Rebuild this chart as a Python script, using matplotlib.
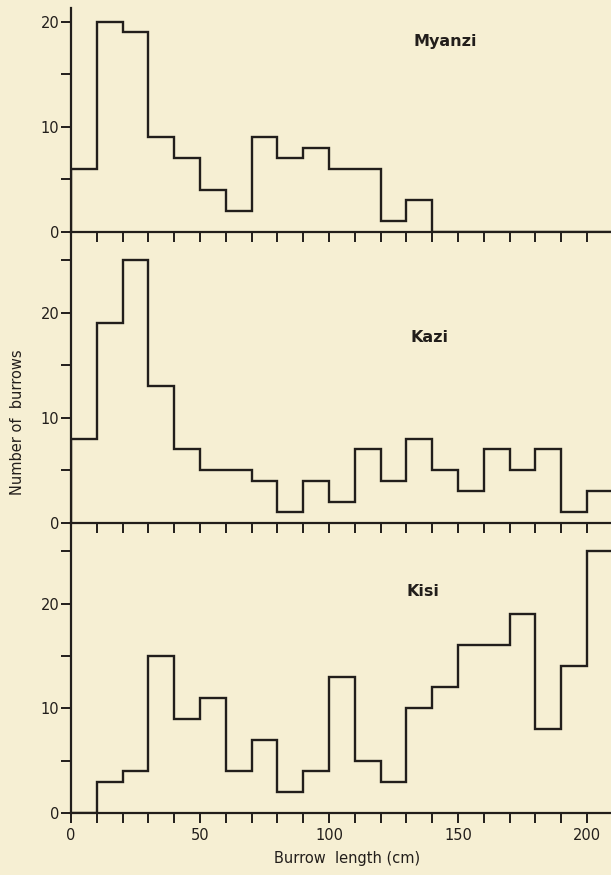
import matplotlib
matplotlib.use("Agg")
import matplotlib.pyplot as plt
import numpy as np

# Burrow length bins (cm), 10 cm wide
bin_edges = np.arange(0, 220, 10)

# Number of burrows per bin
myanzi = [6, 20, 19, 9, 7, 4, 2, 9, 7, 8, 6, 6, 1, 3, 0, 0, 0, 0, 0, 0, 0]
kazi = [8, 19, 25, 13, 7, 5, 5, 4, 1, 4, 2, 7, 4, 8, 5, 3, 7, 5, 7, 1, 3]
kisi = [0, 3, 4, 15, 9, 11, 4, 7, 2, 4, 13, 5, 3, 10, 12, 16, 16, 19, 8, 14, 25]

site_names = ["Myanzi", "Kazi", "Kisi"]
x_tick_labels = ["0", "50", "100", "150", "200"]

bg = "#f6efd3"
ink = "#221e1b"

W, H = 611, 875
fig = plt.figure(figsize=(W / 100, H / 100), dpi=100)
fig.patch.set_facecolor(bg)

# panel boxes in pixels: (top, bottom, ymax), label position in data coords
left_px = 71
px_per_cm = 2.58
xmax = (W - left_px) / px_per_cm
panels = [
    (myanzi, 8, 232, 21.3, (145, 18.1)),
    (kazi, 232, 523, 27.7, (139, 17.7)),
    (kisi, 523, 813, 27.7, (136.5, 21.2)),
]

for k, (counts, top, bot, ymax, lab) in enumerate(panels):
    ax = fig.add_axes([left_px / W, (H - bot) / H, 1 - left_px / W, (bot - top) / H])
    ax.set_facecolor("none")
    ax.stairs(counts, bin_edges, baseline=0, color=ink, lw=1.7)
    ax.set_xlim(0, xmax)
    ax.set_ylim(0, ymax)

    for s in ["top", "right"]:
        ax.spines[s].set_visible(False)
    for s in ["left", "bottom"]:
        ax.spines[s].set_color(ink)
        ax.spines[s].set_linewidth(1.6)

    ax.set_yticks([0, 10, 20])
    ax.set_yticks(np.arange(5, ymax, 10), minor=True)
    ax.set_xticks(np.arange(0, 201, 50))
    ax.set_xticks(np.arange(10, 210, 10), minor=True)
    ax.tick_params(which="both", direction="out", color=ink, width=1.4,
                   length=7, labelsize=10.5, labelcolor=ink, pad=1.5)
    if k < 2:
        ax.set_xticklabels([])
    else:
        ax.set_xticklabels(x_tick_labels)
        ax.tick_params(axis="x", pad=4)

    ax.text(lab[0], lab[1], site_names[k], ha="center", va="center",
            fontsize=11.5, fontweight="bold", color=ink)

fig.text(18 / W, (H - 422) / H, "Number of  burrows", rotation=90,
         ha="center", va="center", fontsize=10.5, color=ink)
fig.text(347 / W, (H - 858) / H, "Burrow  length (cm)",
         ha="center", va="center", fontsize=10.5, color=ink)

fig.savefig("out.png", dpi=100, facecolor=bg)
